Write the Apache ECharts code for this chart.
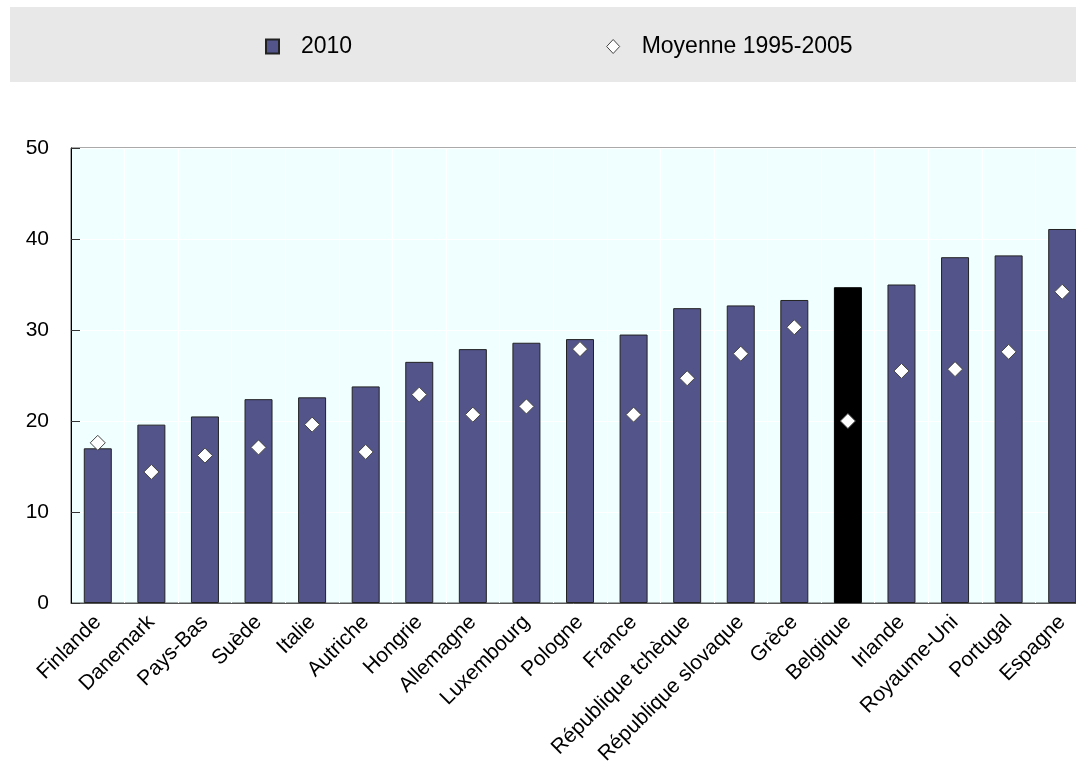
<!DOCTYPE html>
<html>
<head>
<meta charset="utf-8">
<script src="https://cdn.jsdelivr.net/npm/echarts@6/dist/echarts.min.js"></script>
<style>
html,body{margin:0;padding:0;background:#fff;}
#c{width:1076px;height:769px;}
</style>
</head>
<body>
<div id="c"></div>
<script>
const categories = ["Finlande","Danemark","Pays-Bas","Suède","Italie","Autriche","Hongrie","Allemagne","Luxembourg","Pologne","France","République tchèque","République slovaque","Grèce","Belgique","Irlande","Royaume-Uni","Portugal","Espagne"];
const values2010 = [17.0,19.6,20.5,22.4,22.6,23.8,26.5,27.9,28.6,29.0,29.5,32.4,32.7,33.3,34.7,35.0,38.0,38.2,41.1];
const moyenne = [17.6,14.4,16.2,17.1,19.6,16.6,22.9,20.7,21.6,27.9,20.7,24.7,27.4,30.3,20.0,25.5,25.7,27.6,34.2];
const highlight = "Belgique";
const yTicks = [0,10,20,30,40,50];

const chart = echarts.init(document.getElementById('c'), null, {renderer:'canvas'});
const FONT = '"Liberation Sans", Arial, sans-serif';
chart.setOption({
  animation:false,
  graphic:[{type:'rect', z:-10, shape:{x:10,y:7,width:1080,height:75}, style:{fill:'#E8E8E8'}}],
  legend:{
    top:30, left:260, itemGap:254, itemWidth:13, itemHeight:14,
    textStyle:{fontFamily:FONT, fontSize:23, color:'#000', padding:[0,0,0,17]},
    data:[{name:'2010', icon:'rect'},{name:'Moyenne 1995-2005', icon:'diamond', itemStyle:{color:'#fff', borderColor:'#444', borderWidth:1}}]
  },
  grid:{left:71, top:148, height:455, width:1018, outerBoundsMode:'none', containLabel:false, show:true, backgroundColor:'#F0FFFF', borderColor:'#555', borderWidth:1},
  xAxis:{
    type:'category', data:categories,
    axisLine:{lineStyle:{color:'#555', width:1}},
    axisTick:{show:false},
    splitLine:{show:true, lineStyle:{color:'#FFFFFF', width:1}},
    axisLabel:{interval:0, rotate:45, fontFamily:FONT, fontSize:21, color:'#000', margin:16}
  },
  yAxis:{
    type:'value', min:yTicks[0], max:yTicks[yTicks.length-1], interval:10,
    axisLine:{show:true, lineStyle:{color:'#000', width:1}},
    axisTick:{show:true, inside:true, length:9, lineStyle:{color:'#333'}},
    splitLine:{show:true, lineStyle:{color:'#FFFFFF'}},
    axisLabel:{fontFamily:FONT, fontSize:21, color:'#000', margin:22}
  },
  series:[
    {name:'2010', type:'bar', barWidth:28, z:2,
     itemStyle:{color:'#53548A', borderColor:'#222', borderWidth:1},
     data: values2010.map((v,i)=> categories[i]===highlight ? {value:v, itemStyle:{color:'#000', borderColor:'#000'}} : v)
    },
    {name:'Moyenne 1995-2005', type:'scatter', symbol:'diamond', symbolSize:[15,15], z:3,
     itemStyle:{color:'#fff', borderColor:'#444', borderWidth:1, opacity:1},
     data: moyenne
    }
  ]
});
</script>
</body>
</html>
